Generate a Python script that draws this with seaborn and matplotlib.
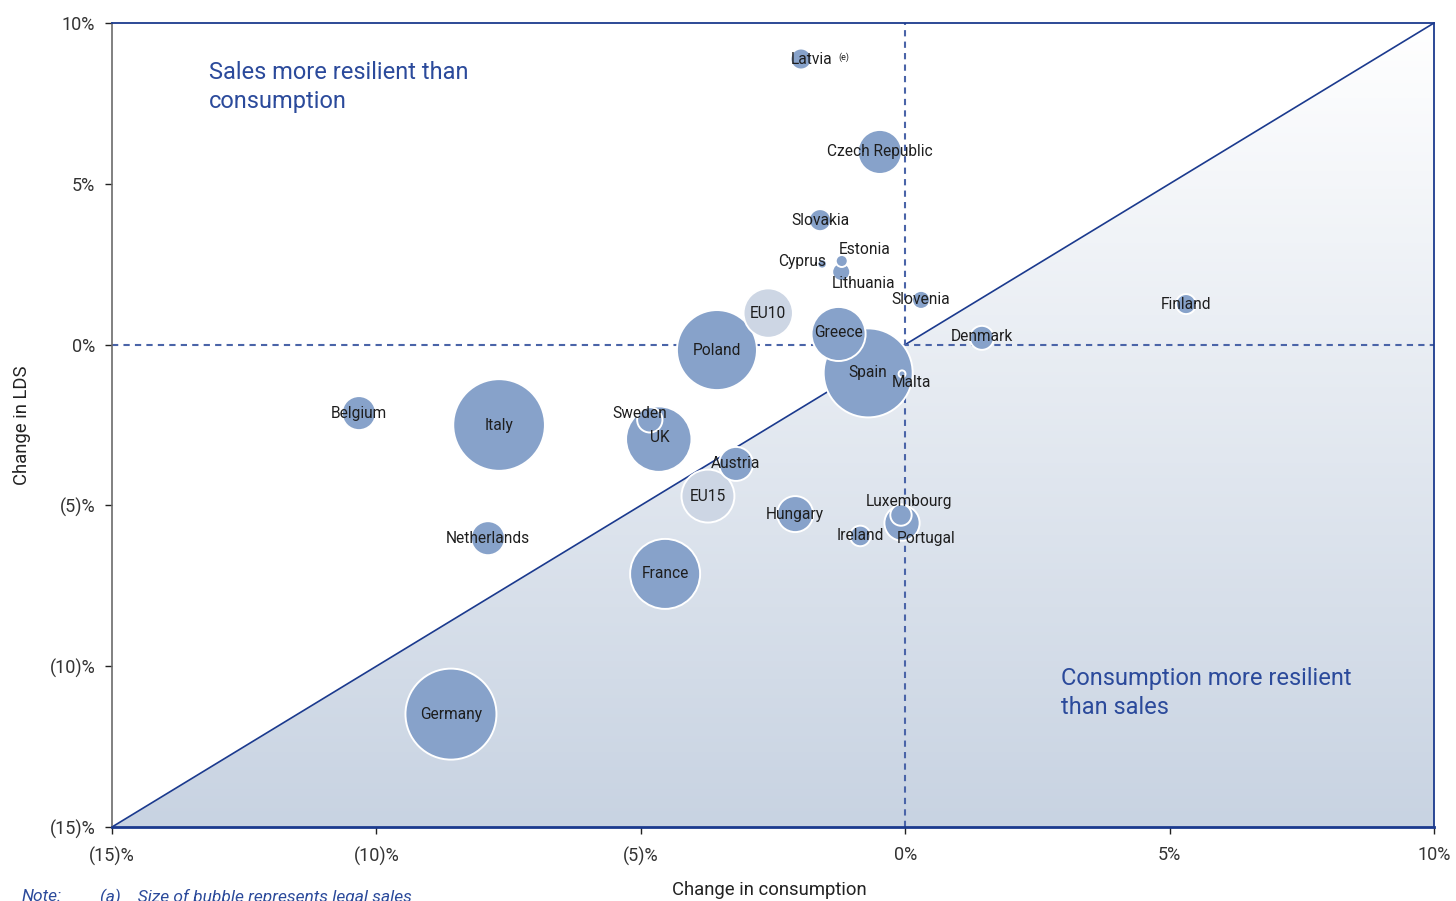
import numpy as np
import pandas as pd
import matplotlib
matplotlib.use("Agg")
import matplotlib.pyplot as plt
from matplotlib.colors import LinearSegmentedColormap
from matplotlib.patches import Polygon
import seaborn as sns

# --- data -------------------------------------------------------------------
countries = [
    "Latvia", "Czech Republic", "Slovakia", "Estonia", "Cyprus", "Lithuania",
    "Slovenia", "Finland", "Denmark", "EU10", "Greece", "Spain", "Malta",
    "Poland", "Belgium", "Italy", "Sweden", "UK", "Austria", "EU15",
    "Hungary", "Luxembourg", "Portugal", "Ireland", "Netherlands", "France",
    "Germany",
]
consumption_change = [
    -1.97, -0.48, -1.61, -1.20, -1.57, -1.21,
    0.30, 5.31, 1.45, -2.59, -1.26, -0.70, -0.06,
    -3.56, -10.33, -7.68, -4.83, -4.66, -3.20, -3.73,
    -2.08, -0.08, -0.06, -0.85, -7.89, -4.54,
    -8.59,
]
lds_change = [
    8.88, 5.99, 3.87, 2.60, 2.51, 2.26,
    1.39, 1.26, 0.21, 0.98, 0.33, -0.88, -0.91,
    -0.17, -2.13, -2.50, -2.34, -2.94, -3.71, -4.71,
    -5.27, -5.30, -5.55, -5.95, -6.02, -7.13,
    -11.49,
]
legal_sales = [
    11.0, 48.4, 12.1, 3.6, 2.2, 8.1,
    8.1, 10.0, 14.4, 61.0, 73.0, 198.0, 1.2,
    160.0, 28.9, 210.0, 16.0, 107.0, 28.9, 70.0,
    32.4, 11.4, 31.0, 10.6, 28.9, 122.5,
    207.0,
]
group = ["country"] * len(countries)
group[countries.index("EU10")] = "aggregate"
group[countries.index("EU15")] = "aggregate"

tick_values = [-15, -10, -5, 0, 5, 10]
tick_labels = ["(15)%", "(10)%", "(5)%", "0%", "5%", "10%"]

# label placement relative to bubble centre (pixels)
label_offsets = {
    "Latvia": (11, 0), "Estonia": (23, 11), "Cyprus": (-20, 2),
    "Lithuania": (22, -12), "Denmark": (0, 1), "Malta": (9, -9),
    "Sweden": (-10, 6), "UK": (1, 2), "Luxembourg": (8, 14),
    "Portugal": (24, -15), "Greece": (0, 1),
}

# --- style ------------------------------------------------------------------
sns.set_style("white")
plt.rcParams["font.family"] = ["Roboto", "DejaVu Sans"]
navy = "#1b3a8e"
text_blue = "#2b4a9b"
bubble = "#87a2ca"
light = "#cdd6e4"

fig = plt.figure(figsize=(14.56, 9.01), dpi=100)
ax = fig.add_axes([112 / 1456, 1 - 827 / 901, 1322 / 1456, 804 / 901])

# shaded triangle below the 45 degree line, fading towards the top
grad = np.linspace(0, 1, 256).reshape(-1, 1)
cmap = LinearSegmentedColormap.from_list("fade", ["#c8d3e2", "#ffffff"])
img = ax.imshow(grad, extent=[-15, 10, -15, 10], origin="lower",
                aspect="auto", cmap=cmap, zorder=0)
tri = Polygon([(-15, -15), (10, 10), (10, -15)], closed=True,
              transform=ax.transData, facecolor="none", edgecolor="none")
ax.add_patch(tri)
img.set_clip_path(tri)

ax.axline((0, 0), slope=1, color=navy, lw=1.2, zorder=1)
ax.axhline(0, color="#4a64a8", lw=1.5, ls=(0, (3, 2.5)), zorder=1)
ax.axvline(0, color="#4a64a8", lw=1.5, ls=(0, (3, 2.5)), zorder=1)

df = pd.DataFrame({
    "country": countries,
    "consumption": consumption_change,
    "lds": lds_change,
    "sales": legal_sales,
    "group": group,
}).sort_values("sales", ascending=False)

k = 20.74  # points^2 per unit of sales
smin, smax = min(legal_sales), max(legal_sales)
sns.scatterplot(
    data=df, x="consumption", y="lds", size="sales", hue="group",
    sizes=(k * smin, k * smax), size_norm=(smin, smax),
    palette={"country": bubble, "aggregate": light},
    edgecolor="white", linewidth=1.4, alpha=1.0, legend=False,
    ax=ax, zorder=3,
)

for name, xv, yv in zip(countries, consumption_change, lds_change):
    dx, dy = label_offsets.get(name, (0, 0))
    ax.annotate(name, (xv, yv), xytext=(dx, dy), textcoords="offset pixels",
                ha="center", va="center", fontsize=11.2, color="#1e1e1e",
                zorder=5)
lat = countries.index("Latvia")
ax.annotate("(e)", (consumption_change[lat], lds_change[lat]), xytext=(37, 2),
            textcoords="offset pixels", ha="left", va="center", fontsize=6.5,
            color="#1e1e1e", zorder=5)

ax.text(0.0734, 0.9525, "Sales more resilient than\nconsumption",
        transform=ax.transAxes, ha="left", va="top", fontsize=17,
        color=text_blue, linespacing=1.3)
ax.text(0.718, 0.1985, "Consumption more resilient\nthan sales",
        transform=ax.transAxes, ha="left", va="top", fontsize=17,
        color=text_blue, linespacing=1.3)

ax.set_xlim(-15, 10)
ax.set_ylim(-15, 10)
ax.set_xticks(tick_values)
ax.set_xticklabels(tick_labels)
ax.set_yticks(tick_values)
ax.set_yticklabels(tick_labels)
ax.tick_params(axis="x", bottom=True, length=5, width=1, color="#222222",
               pad=9, labelsize=13, labelcolor="#333333")
ax.tick_params(axis="y", left=True, length=5, width=1, color="#222222",
               pad=7, labelsize=13, labelcolor="#333333")

for side in ("top", "right"):
    ax.spines[side].set_color(navy)
    ax.spines[side].set_linewidth(1.3)
ax.spines["bottom"].set_color(navy)
ax.spines["bottom"].set_linewidth(2.0)
ax.spines["left"].set_color("#6b6b6b")
ax.spines["left"].set_linewidth(1.2)
for sp in ax.spines.values():
    sp.set_zorder(6)

ax.set_xlabel("Change in consumption", fontsize=13.3, color="#222222")
ax.set_ylabel("Change in LDS", fontsize=13.3, color="#222222")
ax.xaxis.set_label_coords(0.497, -0.078)
ax.xaxis.label.set_va("center")
ax.yaxis.set_label_coords(-0.068, 0.5)
ax.yaxis.label.set_va("center")

fig.text(22 / 1456, 1 - 889 / 901, "Note:", ha="left", va="top",
         fontsize=12.5, style="italic", color=text_blue)
fig.text(100 / 1456, 1 - 889 / 901, "(a)    Size of bubble represents legal sales",
         ha="left", va="top", fontsize=12.5, style="italic", color=text_blue)

fig.savefig("out.png", dpi=100)
